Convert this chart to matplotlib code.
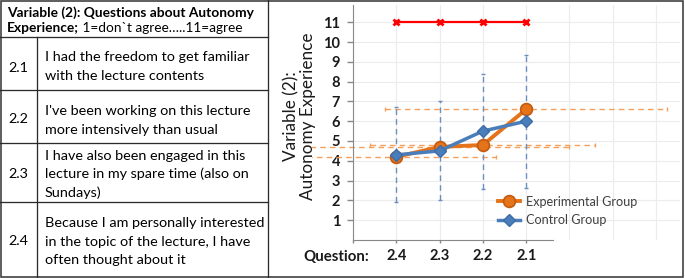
import numpy as np
import matplotlib
matplotlib.use('Agg')
import matplotlib.pyplot as plt
from matplotlib.patches import Rectangle

#--------------------------------------------------------------------------------------------------
# DATA
#--------------------------------------------------------------------------------------------------

questions = ['2.1', '2.2', '2.3', '2.4']
statements = [
    'I had the freedom to get familiar\nwith the lecture contents',
    "I've been working on this lecture\nmore intensively than usual",
    'I have also been engaged in this\nlecture in my spare time (also on\nSundays)',
    'Because I am personally interested\nin the topic of the lecture, I have\noften thought about it',
]

# chart runs from 2.4 to 2.1
categories = ['2.4', '2.3', '2.2', '2.1']
experimental = [4.2, 4.7, 4.8, 6.6]
experimental_sd = [2.3, 3.0, 2.6, 3.25]   # drawn horizontally, as in the original
control = [4.3, 4.5, 5.5, 6.0]
control_sd = [2.4, 2.5, 2.9, 3.35]
scale_max = [11, 11, 11, 11]

#--------------------------------------------------------------------------------------------------
# PLOT
#--------------------------------------------------------------------------------------------------

plt.rcParams['font.family'] = ['Lato', 'DejaVu Sans']

W, H = 685, 278
fig = plt.figure(figsize=(W / 100, H / 100), dpi=100)
PT = 0.72  # points per pixel

# overlay in pixel coordinates for the table and the outer frame
ov = fig.add_axes([0, 0, 1, 1])
ov.set_xlim(0, W)
ov.set_ylim(H, 0)
ov.axis('off')

dark = '#2b2b2b'
ov.add_patch(Rectangle((0.8, 0.8), W - 2.3, H - 2.3, fill=False, ec='#3a3a3a', lw=1.6 * PT))
ov.plot([268, 268], [0, H], color=dark, lw=1.3 * PT)
for yy in [37, 90, 143, 202]:
    ov.plot([0, 268], [yy, yy], color=dark, lw=1.3 * PT)
ov.plot([37, 37], [37, H], color=dark, lw=1.3 * PT)

fs_head = 9.9
fs_tab = 10.4
ov.text(7, 16.5, 'Variable (2): Questions about Autonomy', fontsize=fs_head, fontweight='bold',
        va='baseline', ha='left', color='black')
t_bold = ov.text(7, 32.5, 'Experience;', fontsize=fs_head, fontweight='bold',
                 va='baseline', ha='left', color='black')
ov.annotate(' 1=don`t agree…..11=agree', xy=(1, 0), xycoords=t_bold, fontsize=9.8,
            va='bottom', ha='left', color='black')

first_base = [61, 115, 160, 227]
num_base = [72, 123, 178, 245]
for q, s, b, nb in zip(questions, statements, first_base, num_base):
    ov.text(8, nb, q, fontsize=fs_tab, va='baseline', ha='left', color='black')
    for i, line in enumerate(s.split('\n')):
        ov.text(45, b + i * 18.5, line, fontsize=fs_tab, va='baseline', ha='left', color='black')

# chart axes
left, right, top, bottom = 353, 680, 5, 240
ax = fig.add_axes([left / W, (H - bottom) / H, (right - left) / W, (bottom - top) / H])
ax.patch.set_alpha(0)
x_step = 43.3
y_step = 19.8
ax.set_xlim(0, (right - left) / x_step)
ax.set_ylim(0, (bottom - top) / y_step)

x = np.arange(1, len(categories) + 1)

ax.set_xticks(np.arange(0, len(categories) + 1))
ax.set_xticklabels([''] + categories)
ax.set_xticks(np.arange(len(categories) + 1, 8), minor=True)
ax.set_yticks(np.arange(1, 12))
ax.tick_params(axis='x', which='major', length=3 * PT, width=1, color='#888888', pad=4,
               labelsize=10.5, labelcolor='#1a1a1a')
ax.tick_params(axis='x', which='minor', length=0)
ax.tick_params(axis='y', length=6 * PT, width=1, color='#888888', pad=5,
               labelsize=10.5, labelcolor='#1a1a1a')
for lab in ax.get_xticklabels() + ax.get_yticklabels():
    lab.set_fontweight('bold')

ax.grid(True, which='both', color='#ececec', lw=0.8)
ax.set_axisbelow(True)
for sp in ['top', 'right']:
    ax.spines[sp].set_visible(False)
ax.spines['left'].set_color('#888888')
ax.spines['bottom'].set_color('#888888')
ax.spines['bottom'].set_bounds(0, 4.62)

# error bars (dashed), orange ones may run past the value axis
clip = Rectangle((-0.125, 0), 1.125, 1, transform=ax.transAxes, visible=False)
ax.add_patch(clip)
eb = ax.errorbar(x, experimental, xerr=experimental_sd, fmt='none', ecolor='#F5A05A',
                 elinewidth=1.0, capsize=1.6, capthick=1.0, zorder=2)
for c in eb[1] + tuple(eb[2]):
    c.set_clip_path(clip)
eb[2][0].set_linestyle((0, (4, 3)))
eb2 = ax.errorbar(x, control, yerr=control_sd, fmt='none', ecolor='#6a8fc0',
                  elinewidth=1.0, capsize=1.6, capthick=1.0, zorder=2)
eb2[2][0].set_linestyle((0, (4, 3)))

l_exp, = ax.plot(x, experimental, color='#E5731A', lw=2.8, marker='o', ms=8.5, mfc='#E5731A',
                 mec='#C35A10', mew=1.2, zorder=3, label='Experimental Group')
l_ctl, = ax.plot(x, control, color='#4A7EBB', lw=2.5, marker='D', ms=6.5, mfc='#4A7EBB',
                 mec='#3D6CA6', mew=1, zorder=4, label='Control Group')
ax.plot(x, scale_max, color='#FF0000', lw=1.6, marker='x', ms=5, mew=2, zorder=5)

ax.legend(handles=[l_exp, l_ctl], loc='center left', bbox_to_anchor=(498 / W, 1 - 211 / H),
          bbox_transform=fig.transFigure, frameon=False, fontsize=9.1, borderpad=0,
          borderaxespad=0, handlelength=1.75, handletextpad=0.5, labelspacing=0.5,
          labelcolor='#404040')

fig.text(300 / W, 1 - 116 / H, 'Variable (2):\nAutonomy Experience', rotation=90,
         ha='center', va='center', fontsize=12.3, color='#1a1a1a', linespacing=1.05)
fig.text(303 / W, 1 - 257 / H, 'Question:', ha='left', va='center', fontsize=10.8,
         fontweight='bold', color='#1a1a1a')

fig.savefig('out.png', dpi=100)
